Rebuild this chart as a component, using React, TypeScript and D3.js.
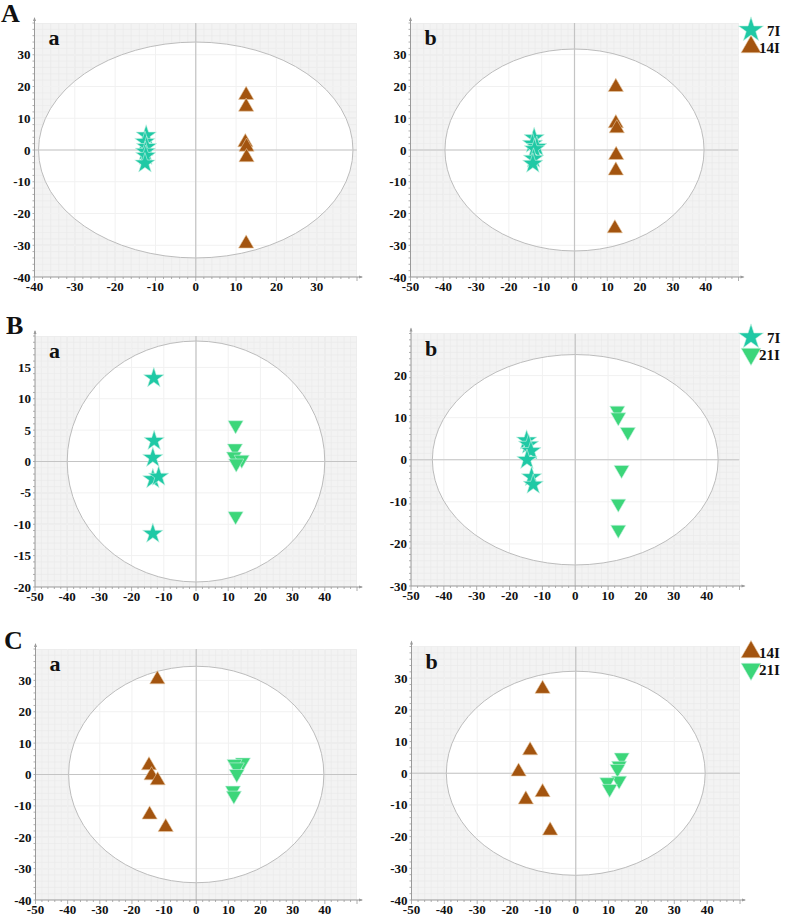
import React from "react";
import * as d3 from "d3";

// ---------- data ----------
const Aa_7I: [number, number][] = [[-12.3, 4.6], [-12.6, 2.6], [-12.2, 1.0], [-12.5, -0.5], [-12.4, -1.8], [-12.6, -4.2]];
const Aa_14I: [number, number][] = [[12.5, 17.3], [12.5, 13.6], [12.3, 2.4], [12.6, 1.0], [12.6, -2.3], [12.5, -29.5]];
const Ab_7I: [number, number][] = [[-12.3, 3.8], [-12.8, 2.0], [-11.5, 1.0], [-12.2, 0.3], [-12.5, -2.7], [-12.7, -4.3]];
const Ab_14I: [number, number][] = [[12.6, 19.8], [12.6, 8.4], [12.9, 6.8], [12.7, -1.6], [12.6, -6.5], [12.3, -24.7]];
const Ba_7I: [number, number][] = [[-13.1, 13.3], [-13.0, 3.3], [-13.4, 0.6], [-13.4, -2.8], [-11.6, -2.4], [-13.4, -11.5]];
const Ba_21I: [number, number][] = [[12.3, 5.8], [12.1, 2.1], [11.8, 0.8], [14.2, 0.3], [12.5, -0.3], [12.3, -8.7]];
const Bb_7I: [number, number][] = [[-14.8, 4.6], [-14.2, 3.6], [-13.5, 2.1], [-14.7, 0.0], [-13.3, -4.1], [-12.8, -5.9]];
const Bb_21I: [number, number][] = [[12.8, 11.7], [13.1, 10.1], [16.0, 6.6], [14.1, -2.4], [13.1, -10.4], [13.1, -16.6]];
const Ca_14I: [number, number][] = [[-12.1, 30.3], [-14.7, 2.9], [-13.9, -0.3], [-12.0, -1.9], [-14.5, -12.8], [-9.5, -16.8]];
const Ca_21I: [number, number][] = [[14.5, 3.9], [11.9, 3.4], [12.6, 2.3], [12.6, 0.2], [11.4, -5.1], [11.7, -6.7]];
const Cb_14I: [number, number][] = [[-10.1, 26.6], [-13.9, 7.2], [-17.4, 0.5], [-10.1, -6.0], [-15.2, -8.3], [-7.8, -18.1]];
const Cb_21I: [number, number][] = [[14.0, 5.0], [13.2, 2.4], [12.7, 1.4], [13.2, -2.3], [9.6, -2.8], [10.3, -4.9]];

// ellipse radii (Hotelling T2) per panel [rx, ry]
const ellipseAa = [39, 34];
const ellipseAb = [39.5, 31.8];
const ellipseBa = [40, 19.2];
const ellipseBb = [43.5, 25];
const ellipseCa = [39.7, 34.5];
const ellipseCb = [39.4, 32.2];

const xTicksAa = [-40, -30, -20, -10, 0, 10, 20, 30];
const xTicksOther = [-50, -40, -30, -20, -10, 0, 10, 20, 30, 40];
const yTicks40 = [-40, -30, -20, -10, 0, 10, 20, 30];
const yTicksBa = [-20, -15, -10, -5, 0, 5, 10, 15];
const yTicksBb = [-30, -20, -10, 0, 10, 20];

const groupNames = { g7: "7I", g14: "14I", g21: "21I" };

// ---------- style ----------
const COL7 = "#1fc9a5";
const COL14 = "#a3540f";
const COL21 = "#3cd67a";
const SERIF = "'Liberation Serif', 'Times New Roman', serif";

type Kind = "star" | "up" | "down";
const colorOf: Record<Kind, string> = { star: COL7, up: COL14, down: COL21 };

function markerPath(kind: Kind, size: number) {
  if (kind === "star") return d3.symbol(d3.symbolStar, size * 1.3)()!;
  return d3.symbol(d3.symbolTriangle, size)()!;
}

function Marker({ kind, x, y, size = 100 }: { kind: Kind; x: number; y: number; size?: number }) {
  return (
    <path
      d={markerPath(kind, size)}
      transform={`translate(${x},${y})${kind === "down" ? " rotate(180)" : ""}`}
      fill={colorOf[kind]}
      stroke={kind === "up" ? "#e8c9a4" : "#c9f2e4"}
      strokeWidth={0.6}
    />
  );
}

type Series = { kind: Kind; data: [number, number][] };

type PanelProps = {
  id: string;
  left: number; right: number; top: number; bottom: number;
  xDom: [number, number]; yDom: [number, number];
  xTicks: number[]; yTicks: number[];
  ell: number[];
  series: Series[];
  sub: string;
};

function Panel(p: PanelProps) {
  const x = d3.scaleLinear().domain(p.xDom).range([p.left, p.right]);
  const y = d3.scaleLinear().domain(p.yDom).range([p.bottom, p.top]);
  const minorX = d3.range(p.xDom[0], p.xDom[1] + 0.001, 2);
  const minorY = d3.range(p.yDom[0], p.yDom[1] + 0.001, (p.yDom[1] - p.yDom[0]) / 40);
  const majorX = d3.range(p.xDom[0], p.xDom[1] + 0.001, 10);
  const yStep = p.yTicks[1] - p.yTicks[0];
  const majorY = d3.range(p.yDom[0], p.yDom[1] + 0.001, yStep);
  const cx = x(0), cy = y(0);
  const rx = x(p.ell[0]) - x(0);
  const ry = y(0) - y(p.ell[1]);
  const clipId = `clip-${p.id}`;
  return (
    <g>
      <defs>
        <clipPath id={clipId}>
          <rect x={p.left} y={p.top} width={p.right - p.left} height={p.bottom - p.top} />
        </clipPath>
      </defs>
      <g clipPath={`url(#${clipId})`}>
        <rect x={p.left} y={p.top} width={p.right - p.left} height={p.bottom - p.top} fill="#f3f3f3" />
        {minorX.map((v, i) => (
          <line key={"mx" + i} x1={x(v)} x2={x(v)} y1={p.top} y2={p.bottom} stroke="#e9e9e9" strokeWidth={0.6} />
        ))}
        {minorY.map((v, i) => (
          <line key={"my" + i} y1={y(v)} y2={y(v)} x1={p.left} x2={p.right} stroke="#e9e9e9" strokeWidth={0.6} />
        ))}
        {majorX.map((v, i) => (
          <line key={"Mx" + i} x1={x(v)} x2={x(v)} y1={p.top} y2={p.bottom} stroke="#e2e2e2" strokeWidth={1} />
        ))}
        {majorY.map((v, i) => (
          <line key={"My" + i} y1={y(v)} y2={y(v)} x1={p.left} x2={p.right} stroke="#e2e2e2" strokeWidth={1} />
        ))}
        <ellipse cx={cx} cy={cy} rx={rx} ry={ry} fill="#ffffff" />
        {majorX.map((v, i) => (
          <line key={"Wx" + i} x1={x(v)} x2={x(v)} y1={p.top} y2={p.bottom} stroke="#f1f1f1" strokeWidth={1} />
        ))}
        {majorY.map((v, i) => (
          <line key={"Wy" + i} y1={y(v)} y2={y(v)} x1={p.left} x2={p.right} stroke="#f1f1f1" strokeWidth={1} />
        ))}
        <ellipse cx={cx} cy={cy} rx={rx} ry={ry} fill="none" stroke="#bcbcbc" strokeWidth={1} />
        <line x1={cx} x2={cx} y1={p.top} y2={p.bottom} stroke="#c4c4c4" strokeWidth={1.2} />
        <line y1={cy} y2={cy} x1={p.left} x2={p.right} stroke="#c4c4c4" strokeWidth={1.2} />
      </g>
      {/* axes */}
      <line x1={p.left} x2={p.right + 5} y1={p.bottom} y2={p.bottom} stroke="#9a9a9a" strokeWidth={1} />
      <path d={`M${p.right + 6},${p.bottom} l-4,-1.5 l0,3 z`} fill="#9a9a9a" />
      <line x1={p.left} x2={p.left} y1={p.top - 5} y2={p.bottom} stroke="#9a9a9a" strokeWidth={1} />
      <path d={`M${p.left},${p.top - 6} l-1.5,4 l3,0 z`} fill="#9a9a9a" />
      {minorX.map((v, i) => (
        <line key={"tx" + i} x1={x(v)} x2={x(v)} y1={p.bottom} y2={p.bottom + (v % 10 === 0 ? 4 : 2)} stroke="#9a9a9a" strokeWidth={0.8} />
      ))}
      {minorY.map((v, i) => (
        <line key={"ty" + i} y1={y(v)} y2={y(v)} x1={p.left} x2={p.left - 2} stroke="#9a9a9a" strokeWidth={0.8} />
      ))}
      {p.xTicks.map((v) => (
        <text key={"xl" + v} x={x(v)} y={p.bottom + 14} textAnchor="middle" fontFamily={SERIF} fontWeight="bold" fontSize={13} fill="#111">
          {v}
        </text>
      ))}
      {p.yTicks.map((v) => (
        <text key={"yl" + v} x={p.left - 4} y={y(v) + 4.5} textAnchor="end" fontFamily={SERIF} fontWeight="bold" fontSize={13} fill="#111">
          {v}
        </text>
      ))}
      {/* points */}
      {p.series.map((s, si) =>
        s.data.map((d, i) => <Marker key={`${si}-${i}`} kind={s.kind} x={x(d[0])} y={y(d[1])} />)
      )}
      <text x={p.left + 14} y={p.top + 22} fontFamily={SERIF} fontWeight="bold" fontSize={22} fill="#111">
        {p.sub}
      </text>
    </g>
  );
}

function Legend({ x, y, items }: { x: number; y: number; items: { kind: Kind; label: string }[] }) {
  return (
    <g>
      {items.map((it, i) => (
        <g key={i}>
          <Marker kind={it.kind} x={x} y={y + i * 17} size={it.kind === "star" ? 150 : 170} />
          <text x={x + (it.label.length > 2 ? 8 : 16)} y={y + i * 17 + 5.5} fontFamily={SERIF} fontWeight="bold" fontSize={15} fill="#111">
            {it.label}
          </text>
        </g>
      ))}
    </g>
  );
}

export default function App() {
  return (
    <svg width={787} height={920} style={{ position: "absolute", left: 0, top: 0, background: "#fff" }}>
      <Panel id="Aa" left={34.5} right={357} top={23} bottom={277} xDom={[-40, 40]} yDom={[-40, 40]}
        xTicks={xTicksAa} yTicks={yTicks40} ell={ellipseAa} sub="a"
        series={[{ kind: "star", data: Aa_7I }, { kind: "up", data: Aa_14I }]} />
      <Panel id="Ab" left={410.5} right={738.5} top={23} bottom={277} xDom={[-50, 50]} yDom={[-40, 40]}
        xTicks={xTicksOther} yTicks={yTicks40} ell={ellipseAb} sub="b"
        series={[{ kind: "star", data: Ab_7I }, { kind: "up", data: Ab_14I }]} />
      <Panel id="Ba" left={35} right={357} top={336} bottom={587} xDom={[-50, 50]} yDom={[-20, 20]}
        xTicks={xTicksOther} yTicks={yTicksBa} ell={ellipseBa} sub="a"
        series={[{ kind: "star", data: Ba_7I }, { kind: "down", data: Ba_21I }]} />
      <Panel id="Bb" left={411} right={739.5} top={333.5} bottom={586} xDom={[-50, 50]} yDom={[-30, 30]}
        xTicks={xTicksOther} yTicks={yTicksBb} ell={ellipseBb} sub="b"
        series={[{ kind: "star", data: Bb_7I }, { kind: "down", data: Bb_21I }]} />
      <Panel id="Ca" left={35.5} right={357} top={649} bottom={900} xDom={[-50, 50]} yDom={[-40, 40]}
        xTicks={xTicksOther} yTicks={yTicks40} ell={ellipseCa} sub="a"
        series={[{ kind: "up", data: Ca_14I }, { kind: "down", data: Ca_21I }]} />
      <Panel id="Cb" left={411.5} right={740} top={646.5} bottom={900} xDom={[-50, 50]} yDom={[-40, 40]}
        xTicks={xTicksOther} yTicks={yTicks40} ell={ellipseCb} sub="b"
        series={[{ kind: "up", data: Cb_14I }, { kind: "down", data: Cb_21I }]} />

      <Legend x={751} y={30} items={[{ kind: "star", label: groupNames.g7 }, { kind: "up", label: groupNames.g14 }]} />
      <Legend x={751} y={337} items={[{ kind: "star", label: groupNames.g7 }, { kind: "down", label: groupNames.g21 }]} />
      <Legend x={751} y={652} items={[{ kind: "up", label: groupNames.g14 }, { kind: "down", label: groupNames.g21 }]} />

      <text x={1} y={22} fontFamily={SERIF} fontWeight="bold" fontSize={26} fill="#111">A</text>
      <text x={6} y={334} fontFamily={SERIF} fontWeight="bold" fontSize={26} fill="#111">B</text>
      <text x={4} y={649} fontFamily={SERIF} fontWeight="bold" fontSize={26} fill="#111">C</text>
    </svg>
  );
}
